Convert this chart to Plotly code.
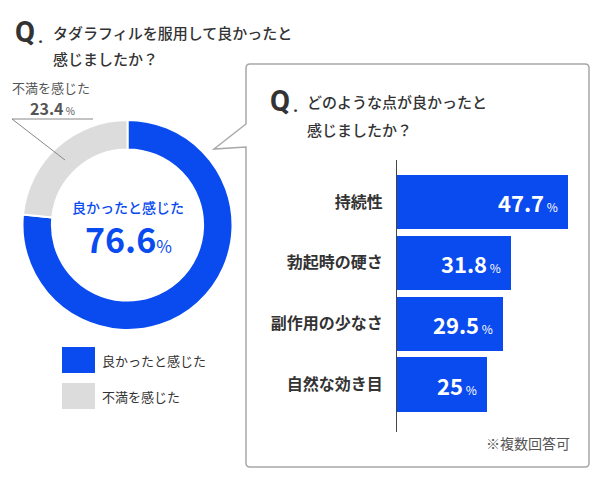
import plotly.graph_objects as go

W, H = 600, 480
OFF = 8  # page body margin of the written html
FONT = "Noto Sans CJK JP"

# ---- data ----
pie_labels = ["良かったと感じた", "不満を感じた"]
pie_values = [76.6, 23.4]
pie_colors = ["#0a4bf0", "#dcdcdc"]

bar_categories = ["持続性", "勃起時の硬さ", "副作用の少なさ", "自然な効き目"]
bar_values = [47.7, 31.8, 29.5, 25]
bar_color = "#0a4bf0"

title_left = ["タダラフィルを服用して良かったと", "感じましたか？"]
title_right = ["どのような点が良かったと", "感じましたか？"]
note_text = "※複数回答可"


def px(x):
    return (x - OFF) / W


def py(y):
    return 1 - (y - OFF) / H


fig = go.Figure()

# donut
fig.add_trace(go.Pie(
    labels=pie_labels, values=pie_values, hole=0.72, sort=False,
    direction="clockwise", rotation=0,
    marker=dict(colors=pie_colors, line=dict(color="white", width=2)),
    textinfo="none", hoverinfo="label+percent", showlegend=False,
    domain=dict(x=[px(22.5), px(232.5)], y=[py(330), py(120)]),
))

# bars
fig.add_trace(go.Bar(
    x=bar_values, y=bar_categories, orientation="h",
    marker=dict(color=bar_color, line=dict(width=0)),
    width=0.89, showlegend=False, hoverinfo="x+y",
    xaxis="x", yaxis="y",
))

shapes = []
ann = []

# callout box with pointer
pts = f"M {px(250)},{py(64)} L {px(585)},{py(64)} Q {px(589)},{py(64)} {px(589)},{py(68)} " \
      f"L {px(589)},{py(463)} Q {px(589)},{py(467)} {px(585)},{py(467)} " \
      f"L {px(250)},{py(467)} Q {px(246)},{py(467)} {px(246)},{py(463)} " \
      f"L {px(246)},{py(147)} L {px(214)},{py(149)} L {px(246)},{py(124)} " \
      f"L {px(246)},{py(68)} Q {px(246)},{py(64)} {px(250)},{py(64)} Z"
shapes.append(dict(type="path", path=pts, xref="paper", yref="paper",
                   line=dict(color="#a8a8a8", width=1.5), fillcolor="white", layer="below"))

# leader line for gray slice
shapes.append(dict(type="path", xref="paper", yref="paper",
                   path=f"M {px(93)},{py(119)} L {px(12)},{py(119)} L {px(65)},{py(160)}",
                   line=dict(color="#888888", width=1)))

# legend squares
for i, (lab, col) in enumerate(zip(pie_labels, pie_colors)):
    y0 = 347 + i * 36
    shapes.append(dict(type="rect", xref="paper", yref="paper",
                       x0=px(62), x1=px(95), y0=py(y0), y1=py(y0 + 26),
                       fillcolor=col, line=dict(width=0)))
    ann.append(dict(text=lab, x=px(100), y=py(y0 + 13), xref="paper", yref="paper",
                    xanchor="left", yanchor="middle", showarrow=False,
                    font=dict(size=13, color="#333333", family=FONT)))

# left title
ann.append(dict(text="<b>Q</b>", x=px(13), y=py(32), xref="paper", yref="paper",
                xanchor="left", yanchor="middle", showarrow=False,
                font=dict(size=29, color="#333333", family="Roboto")))
ann.append(dict(text="<b>.</b>", x=px(36), y=py(36), xref="paper", yref="paper",
                xanchor="left", yanchor="middle", showarrow=False,
                font=dict(size=18, color="#333333", family="Roboto")))
ann.append(dict(text=title_left[0], x=px(51), y=py(32), xref="paper", yref="paper",
                xanchor="left", yanchor="middle", showarrow=False,
                font=dict(size=15, color="#333333", family=FONT, weight=500)))
ann.append(dict(text=title_left[1], x=px(51), y=py(59), xref="paper", yref="paper",
                xanchor="left", yanchor="middle", showarrow=False,
                font=dict(size=15, color="#333333", family=FONT, weight=500)))

# right title
ann.append(dict(text="<b>Q</b>", x=px(268), y=py(101), xref="paper", yref="paper",
                xanchor="left", yanchor="middle", showarrow=False,
                font=dict(size=29, color="#333333", family="Roboto")))
ann.append(dict(text="<b>.</b>", x=px(291), y=py(105), xref="paper", yref="paper",
                xanchor="left", yanchor="middle", showarrow=False,
                font=dict(size=18, color="#333333", family="Roboto")))
ann.append(dict(text=title_right[0], x=px(305), y=py(102), xref="paper", yref="paper",
                xanchor="left", yanchor="middle", showarrow=False,
                font=dict(size=15, color="#333333", family=FONT, weight=500)))
ann.append(dict(text=title_right[1], x=px(305), y=py(129), xref="paper", yref="paper",
                xanchor="left", yanchor="middle", showarrow=False,
                font=dict(size=15, color="#333333", family=FONT, weight=500)))

# gray slice label
ann.append(dict(text=pie_labels[1], x=px(10), y=py(88), xref="paper", yref="paper",
                xanchor="left", yanchor="middle", showarrow=False,
                font=dict(size=13, color="#555555", family=FONT)))
ann.append(dict(text=f"<b>{pie_values[1]}</b><span style='font-size:10px'> %</span>",
                x=px(28), y=py(108), xref="paper", yref="paper",
                xanchor="left", yanchor="middle", showarrow=False,
                font=dict(size=16, color="#555555", family=FONT)))

# donut center
ann.append(dict(text=pie_labels[0], x=px(128), y=py(207), xref="paper", yref="paper",
                xanchor="center", yanchor="middle", showarrow=False,
                font=dict(size=14, color=pie_colors[0], family=FONT, weight=500)))
ann.append(dict(text=f"<b>{pie_values[0]}</b><span style='font-size:17px'>%</span>",
                x=px(128), y=py(238), xref="paper", yref="paper",
                xanchor="center", yanchor="middle", showarrow=False,
                font=dict(size=34, color=pie_colors[0], family=FONT)))

# bar value labels
for c, v in zip(bar_categories, bar_values):
    ann.append(dict(text=f"<b>{v:g}</b><span style='font-size:12px'> %</span>",
                    x=v, y=c, xref="x", yref="y", xanchor="right", yanchor="middle",
                    xshift=-8, showarrow=False,
                    font=dict(size=22, color="white", family=FONT)))

# note
ann.append(dict(text=note_text, x=px(572), y=py(443), xref="paper", yref="paper",
                xanchor="right", yanchor="middle", showarrow=False,
                font=dict(size=14, color="#555555", family=FONT)))

fig.update_layout(
    width=W, height=H, margin=dict(l=0, r=0, t=0, b=0),
    paper_bgcolor="white", plot_bgcolor="rgba(0,0,0,0)",
    font=dict(family=FONT),
    shapes=shapes, annotations=ann,
    bargap=0,
    xaxis=dict(domain=[px(397), px(576)], range=[0, 50], visible=False, fixedrange=True),
    yaxis=dict(domain=[py(432), py(160)], range=[3.78, -0.69], type="category",
               showline=True, linecolor="#444444", linewidth=1, showgrid=False,
               ticks="", ticklabelstandoff=10,
               tickfont=dict(size=16, color="#333333", family=FONT, weight="bold"),
               fixedrange=True),
)

fig.write_html("out.html")
